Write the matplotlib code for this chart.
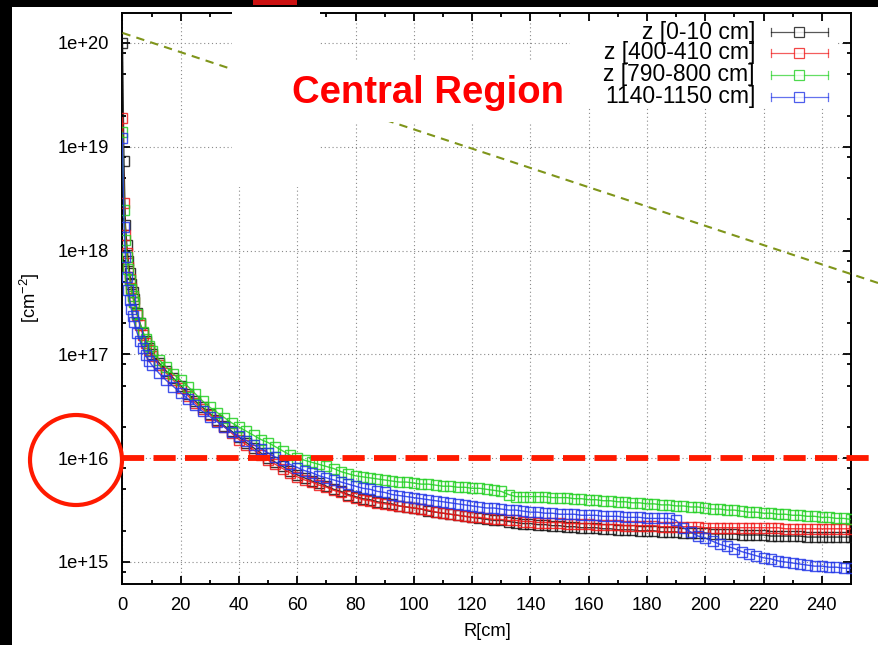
import numpy as np
import matplotlib
matplotlib.use("Agg")
import matplotlib.pyplot as plt
from matplotlib.patches import Rectangle, Ellipse
from matplotlib.lines import Line2D
from matplotlib.ticker import FixedLocator, FuncFormatter

plt.rcParams['font.family'] = ['Liberation Sans', 'DejaVu Sans']

# ---------------------------------------------------------------- data
# radial bin positions [cm]
radius_inner = [0.0, 0.5, 1.0, 1.5, 2.0, 2.5, 3.0, 3.5, 4.0, 5.0, 6.0, 7.0, 8.0, 9.0]
radius_outer = np.arange(10.0, 250.01, 2.5)
radius = np.concatenate([radius_inner, radius_outer])

# log10 of fluence [cm^-2] for each z slice
log_flux_z0 = [
    20.00, 18.86, 18.25, 18.05, 17.90, 17.78, 17.68, 17.60, 17.53, 17.40, 17.30, 17.21, 17.13, 17.06,
    17.00, 16.92, 16.84, 16.77, 16.70, 16.62, 16.55, 16.49, 16.43, 16.37,
    16.31, 16.26, 16.20, 16.15, 16.10, 16.05, 16.00, 15.96, 15.92, 15.88,
    15.84, 15.81, 15.78, 15.76, 15.73, 15.70, 15.68, 15.65, 15.63, 15.61,
    15.60, 15.58, 15.57, 15.56, 15.54, 15.53, 15.52, 15.51, 15.49, 15.48,
    15.47, 15.46, 15.45, 15.44, 15.43, 15.42, 15.41, 15.40, 15.40, 15.39,
    15.38, 15.37, 15.37, 15.36, 15.36, 15.35, 15.35, 15.34, 15.34, 15.33,
    15.33, 15.33, 15.32, 15.32, 15.31, 15.31, 15.31, 15.30, 15.30, 15.30,
    15.29, 15.29, 15.29, 15.28, 15.28, 15.28, 15.28, 15.27, 15.27, 15.27,
    15.27, 15.26, 15.26, 15.26, 15.26, 15.25, 15.25, 15.25, 15.25, 15.25,
    15.24, 15.24, 15.24, 15.24, 15.24, 15.24, 15.24,
]
log_flux_z400 = [
    19.28, 18.46, 18.15, 17.98, 17.84, 17.73, 17.64, 17.56, 17.50, 17.38, 17.28, 17.19, 17.11, 17.04,
    16.98, 16.90, 16.82, 16.75, 16.68, 16.60, 16.53, 16.47, 16.42, 16.36,
    16.30, 16.24, 16.18, 16.13, 16.08, 16.03, 15.98, 15.94, 15.90, 15.86,
    15.82, 15.79, 15.77, 15.74, 15.72, 15.69, 15.67, 15.64, 15.62, 15.60,
    15.59, 15.57, 15.56, 15.55, 15.54, 15.53, 15.52, 15.51, 15.50, 15.48,
    15.47, 15.46, 15.45, 15.44, 15.43, 15.43, 15.42, 15.41, 15.41, 15.40,
    15.40, 15.39, 15.39, 15.38, 15.38, 15.38, 15.38, 15.37, 15.37, 15.37,
    15.37, 15.36, 15.36, 15.36, 15.36, 15.35, 15.35, 15.35, 15.35, 15.35,
    15.34, 15.34, 15.34, 15.34, 15.34, 15.34, 15.33, 15.33, 15.33, 15.33,
    15.33, 15.33, 15.33, 15.33, 15.33, 15.33, 15.33, 15.32, 15.32, 15.32,
    15.32, 15.32, 15.32, 15.32, 15.32, 15.32, 15.32,
]
log_flux_z790 = [
    19.14, 18.39, 18.10, 17.94, 17.82, 17.72, 17.63, 17.56, 17.50, 17.39, 17.30, 17.22, 17.15, 17.08,
    17.03, 16.95, 16.88, 16.81, 16.75, 16.69, 16.62, 16.55, 16.49, 16.44,
    16.39, 16.34, 16.30, 16.26, 16.22, 16.18, 16.15, 16.11, 16.07, 16.03,
    16.00, 15.98, 15.96, 15.94, 15.92, 15.90, 15.87, 15.85, 15.83, 15.82,
    15.81, 15.80, 15.79, 15.78, 15.77, 15.77, 15.76, 15.75, 15.75, 15.74,
    15.73, 15.73, 15.72, 15.72, 15.71, 15.71, 15.70, 15.69, 15.68, 15.65,
    15.63, 15.63, 15.63, 15.63, 15.63, 15.62, 15.62, 15.62, 15.61, 15.61,
    15.60, 15.60, 15.59, 15.59, 15.58, 15.58, 15.57, 15.57, 15.56, 15.56,
    15.55, 15.55, 15.54, 15.54, 15.53, 15.53, 15.52, 15.51, 15.51, 15.50,
    15.50, 15.49, 15.48, 15.48, 15.47, 15.47, 15.46, 15.46, 15.45, 15.45,
    15.44, 15.44, 15.43, 15.43, 15.42, 15.42, 15.41,
]
log_flux_z1140 = [
    19.08, 18.23, 17.94, 17.75, 17.62, 17.52, 17.44, 17.37, 17.31, 17.21, 17.13, 17.06, 16.99, 16.94,
    16.90, 16.82, 16.75, 16.69, 16.63, 16.57, 16.51, 16.45, 16.40, 16.35,
    16.30, 16.25, 16.21, 16.17, 16.13, 16.09, 16.05, 16.01, 15.98, 15.94,
    15.91, 15.88, 15.86, 15.83, 15.81, 15.79, 15.77, 15.75, 15.73, 15.71,
    15.70, 15.68, 15.67, 15.65, 15.64, 15.63, 15.62, 15.61, 15.60, 15.59,
    15.58, 15.57, 15.56, 15.55, 15.54, 15.53, 15.52, 15.52, 15.51, 15.50,
    15.50, 15.49, 15.48, 15.48, 15.47, 15.47, 15.46, 15.46, 15.46, 15.45,
    15.45, 15.45, 15.44, 15.44, 15.44, 15.43, 15.43, 15.43, 15.42, 15.42,
    15.42, 15.42, 15.40, 15.33, 15.29, 15.25, 15.23, 15.20, 15.17, 15.15,
    15.13, 15.10, 15.08, 15.06, 15.04, 15.03, 15.01, 15.00, 14.99, 14.98,
    14.97, 14.96, 14.96, 14.95, 14.95, 14.94, 14.94,
]

series_labels = ["z [0-10 cm]", "z [400-410 cm]", "z [790-800 cm]", "1140-1150 cm]"]
series_colors = ["#111111", "#f01818", "#22d022", "#2236e8"]
series_values = [log_flux_z0, log_flux_z400, log_flux_z790, log_flux_z1140]

# straight reference line (exponential fall-off) and the 1e16 limit
ref_line_r = [0.0, 262.0]
ref_line_flux = [1.25e20, 4.6e17]
limit_flux = 1e16

x_ticks = [0, 20, 40, 60, 80, 100, 120, 140, 160, 180, 200, 220, 240]
y_ticks = [1e15, 1e16, 1e17, 1e18, 1e19, 1e20]

# ---------------------------------------------------------------- figure
W, H = 879, 645
fig = plt.figure(figsize=(W / 100, H / 100), dpi=100)
fig.patch.set_facecolor("white")


def fx(px):
    return px / W


def fy(py):
    return 1 - py / H


ax_l, ax_r, ax_t, ax_b = 122.5, 851, 13, 584
ax = fig.add_axes([fx(ax_l), fy(ax_b), fx(ax_r - ax_l), (ax_b - ax_t) / H])
ax.set_yscale("log")
ax.set_xlim(0, 250)
ax.set_ylim(10 ** 14.788, 10 ** 20.289)

for vals, col in zip(series_values, series_colors):
    ax.plot(radius, 10 ** np.asarray(vals), color=col, lw=1.0, alpha=0.85,
            marker="s", ms=7.0, mfc="none", mec=col, mew=1.0, zorder=3)

ax.plot(ref_line_r, ref_line_flux, color="#7f951a", lw=1.5, ls=(0, (4, 3)),
        clip_on=False, zorder=4)
ax.plot([0, 262], [limit_flux, limit_flux], color="#ff1a00", lw=4.2,
        ls=(0, (3.8, 1.6)), clip_on=False, zorder=5, solid_capstyle="butt",
        dash_capstyle="butt")

# axes styling
ax.xaxis.set_major_locator(FixedLocator(x_ticks))
ax.xaxis.set_minor_locator(FixedLocator(np.arange(10, 250, 20)))
ax.yaxis.set_major_locator(FixedLocator(y_ticks))
minor_y = [m * 10.0 ** e for e in range(14, 21) for m in (2, 5, 8)]
ax.yaxis.set_minor_locator(FixedLocator(minor_y))
ax.yaxis.set_major_formatter(FuncFormatter(lambda v, p: "1e+%d" % int(round(np.log10(v)))))
ax.tick_params(which="both", direction="in", top=True, right=True, width=1.3,
               labelsize=13.2, colors="black")
ax.tick_params(which="major", length=6, pad=9)
ax.tick_params(which="minor", length=3.2)
ax.tick_params(axis="y", pad=10)
for s in ax.spines.values():
    s.set_linewidth(1.4)
ax.grid(True, which="major", color="#8a8a8a", lw=0.8, ls=(0, (1, 2.5)))

fig.text(fx(487), fy(632), "R[cm]", ha="center", va="center", fontsize=13.2)
fig.text(fx(30), fy(298), r"[cm$^{\mathregular{-2}}$]", ha="center", va="center",
         rotation=90, fontsize=13.2)

# ---------------------------------------------------------------- overlays
def px_rect(x0, y0, x1, y1, color, z=10):
    fig.patches.append(Rectangle((fx(x0), fy(y1)), fx(x1 - x0), (y1 - y0) / H,
                                 transform=fig.transFigure, facecolor=color,
                                 edgecolor="none", zorder=z))


px_rect(232, 7, 320, 187, "white")
px_rect(232, 60, 583, 122, "white")
px_rect(570, 22, 838, 108, "white")
px_rect(0, 0, W, 7, "black", z=12)
px_rect(0, 0, 12, H, "black", z=12)
px_rect(253, 0, 297, 5, "#cc1111", z=13)

fig.text(fx(428), fy(93), "Central Region", ha="center", va="center",
         color="#ff0000", fontsize=27.5, fontweight="bold", zorder=14)

fig.patches.append(Ellipse((fx(76), fy(460)), fx(92), 90 / H,
                           transform=fig.transFigure, facecolor="none",
                           edgecolor="#ff1a00", lw=3.0, zorder=14))

# key
row_y = [32, 53, 75, 97]
for yy, lab, col in zip(row_y, series_labels, series_colors):
    fig.text(fx(755), fy(yy), lab, ha="right", va="center", fontsize=16.5,
             zorder=15)
    fig.lines.append(Line2D([fx(771), fx(828)], [fy(yy), fy(yy)],
                            transform=fig.transFigure, color=col, lw=0.9,
                            alpha=0.7, zorder=15))
    for xc in (771, 828):
        fig.lines.append(Line2D([fx(xc), fx(xc)], [fy(yy - 4), fy(yy + 4)],
                                transform=fig.transFigure, color=col, lw=0.9,
                                alpha=0.7, zorder=15))
    fig.lines.append(Line2D([fx(799)], [fy(yy)], transform=fig.transFigure,
                            marker="s", ms=6.5, mfc="white", mec=col, mew=0.9,
                            alpha=0.8, zorder=16))

fig.savefig("out.png", dpi=100, facecolor="white")
